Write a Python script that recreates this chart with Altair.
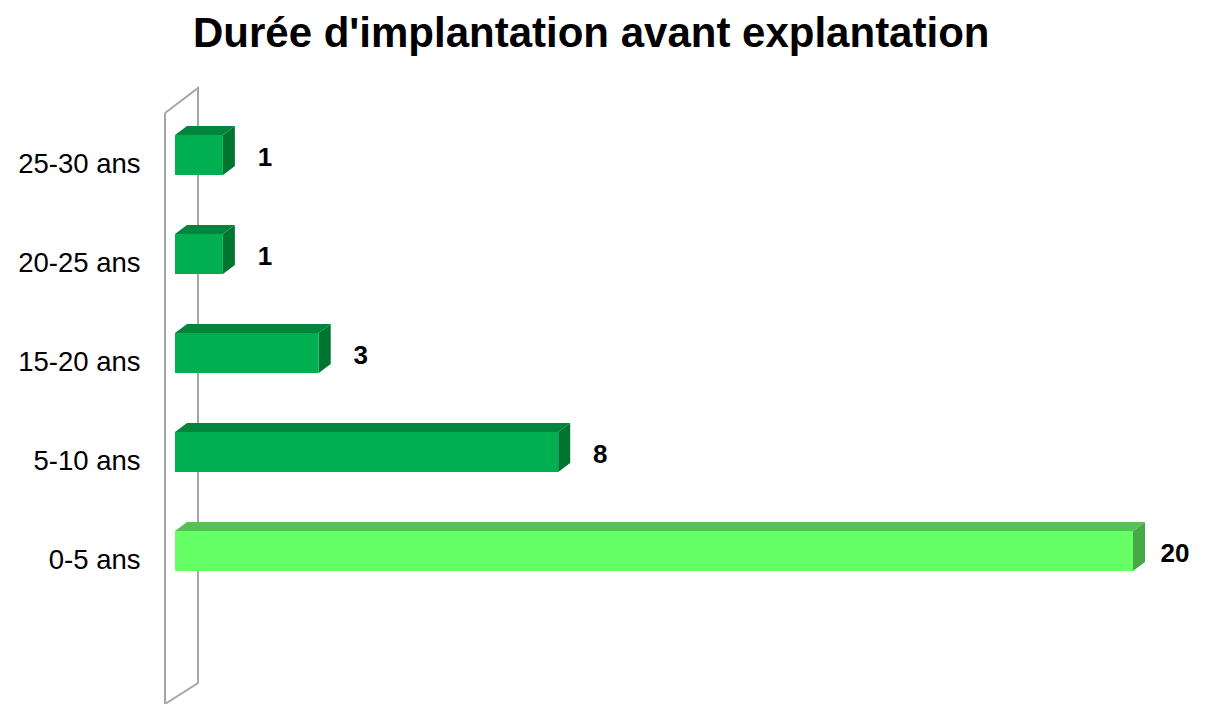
import json
import altair as alt
import pandas as pd

# ---- data ----
categories = ["0-5 ans", "5-10 ans", "15-20 ans", "20-25 ans", "25-30 ans"]
values = [20, 8, 3, 1, 1]
title_text = "Durée d'implantation avant explantation"

# ---- styling / geometry constants (pixels) ----
PX_X = 47.9          # pixels per unit on x
PX_Y = 99.0          # pixels per category slot on y
W = 958              # plot width  (20 units)
H = 591              # plot height
Y_MIN = -153 / PX_Y  # plot bottom, in slot units (first slot centre at 0)
Y_MAX = Y_MIN + H / PX_Y
HALF = 20 / PX_Y     # half bar height
DX = 12 / PX_X       # 3D depth along x
DY = 9 / PX_Y        # 3D depth along y

front_col = ["#66FF66", "#00B050", "#00B050", "#00B050", "#00B050"]
top_col = ["#52C252", "#00853D", "#00853D", "#00853D", "#00853D"]
side_col = ["#47A847", "#007532", "#007532", "#007532", "#007532"]

idx = list(range(len(categories)))

front = pd.DataFrame({"cat": categories, "i": idx, "v": values})
front["x0"] = 0.0
front["y0"] = front["i"] - HALF
front["y1"] = front["i"] + HALF

top_rows, side_rows = [], []
for c, i, v in zip(categories, idx, values):
    t = i + HALF
    top_rows += [
        {"cat": c, "x": 0.0, "y": t, "y2": t},
        {"cat": c, "x": DX, "y": t, "y2": t + DY},
        {"cat": c, "x": v, "y": t, "y2": t + DY},
        {"cat": c, "x": v + DX, "y": t + DY, "y2": t + DY},
    ]
    side_rows += [
        {"cat": c, "x": v, "y": i - HALF, "y2": i + HALF},
        {"cat": c, "x": v + DX, "y": i - HALF + DY, "y2": i + HALF + DY},
    ]
top_df = pd.DataFrame(top_rows)
side_df = pd.DataFrame(side_rows)

# side wall outline (front edge left of the bars, back edge behind them)
wx0, wx1 = -10 / PX_X, 23 / PX_X
wall = pd.DataFrame({
    "k": [0, 1, 2, 3, 4],
    "x": [wx0, wx0, wx1, wx1, wx0],
    "y": [Y_MAX, Y_MIN, Y_MIN + 21 / PX_Y, Y_MAX + 25 / PX_Y, Y_MAX],
})

xs = alt.Scale(domain=[0, 20], nice=False, zero=False)
ys = alt.Scale(domain=[Y_MIN, Y_MAX], nice=False, zero=False)

label_expr = json.dumps(categories) + "[datum.value]"

wall_layer = alt.Chart(wall).mark_line(color="#A6A6A6", strokeWidth=2).encode(
    x=alt.X("x:Q", scale=xs, axis=None),
    y=alt.Y("y:Q", scale=ys,
            axis=alt.Axis(values=idx, labelExpr=label_expr, domain=False, ticks=False,
                          grid=False, title=None, labelFontSize=27.5,
                          labelFont="Liberation Sans", labelColor="#000000",
                          labelPadding=35, labelOffset=9, labelBaseline="middle")),
    order="k:O",
)

side_layer = alt.Chart(side_df).mark_area(interpolate="linear").encode(
    x=alt.X("x:Q", scale=xs),
    y=alt.Y("y:Q", scale=ys, stack=None),
    y2="y2:Q",
    color=alt.Color("cat:N", scale=alt.Scale(domain=categories, range=side_col), legend=None),
    detail="cat:N",
)

top_layer = alt.Chart(top_df).mark_area(interpolate="linear").encode(
    x=alt.X("x:Q", scale=xs),
    y=alt.Y("y:Q", scale=ys, stack=None),
    y2="y2:Q",
    color=alt.Color("cat:N", scale=alt.Scale(domain=categories, range=top_col), legend=None),
    detail="cat:N",
)

front_layer = alt.Chart(front).mark_rect().encode(
    x=alt.X("x0:Q", scale=xs),
    x2="v:Q",
    y=alt.Y("y0:Q", scale=ys),
    y2="y1:Q",
    fill=alt.Fill("cat:N", scale=alt.Scale(domain=categories, range=front_col), legend=None),
)

text_layer = alt.Chart(front).mark_text(
    dx=42, dy=3, align="center", baseline="middle", fontSize=26, fontWeight="bold",
    font="Liberation Sans", color="#000000",
).encode(
    x=alt.X("v:Q", scale=xs),
    y=alt.Y("i:Q", scale=ys),
    text="v:Q",
)

chart = alt.layer(wall_layer, side_layer, top_layer, front_layer, text_layer).resolve_scale(
    color="independent"
).properties(
    width=W,
    height=H,
    title=alt.TitleParams(title_text, fontSize=42, fontWeight="bold", font="Liberation Sans",
                          color="#000000", anchor="start", frame="group", dx=18,
                          baseline="alphabetic", offset=-5),
    autosize=alt.AutoSizeParams(type="none"),
    padding={"left": 167, "right": 71, "top": 105, "bottom": 0},
).configure_view(stroke=None)

chart.save("out.html", embed_options={"renderer": "svg", "actions": False})
